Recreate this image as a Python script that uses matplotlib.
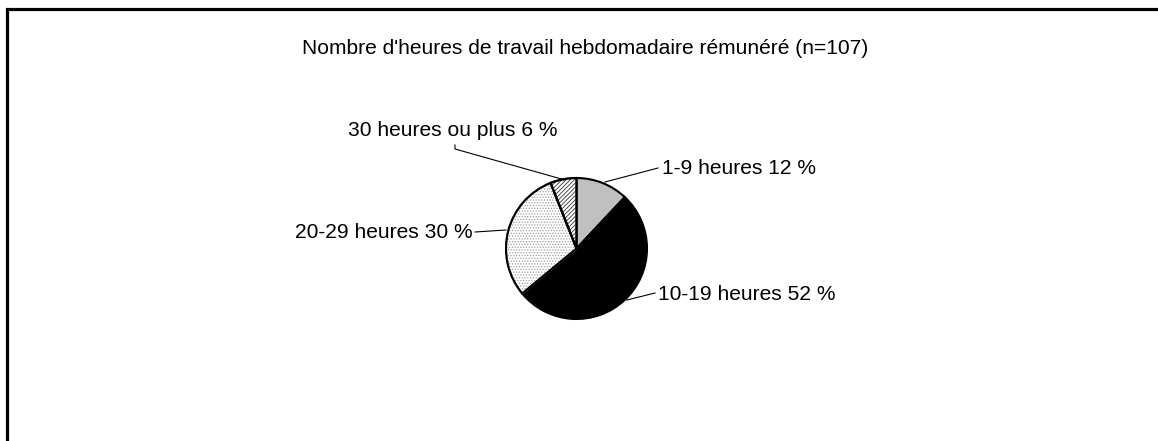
import matplotlib
matplotlib.use("Agg")
import matplotlib.pyplot as plt
import matplotlib.patches as patches

plt.rcParams['font.family'] = ['Liberation Sans', 'DejaVu Sans']
plt.rcParams['hatch.linewidth'] = 0.6

# data
title = "Nombre d'heures de travail hebdomadaire rémunéré (n=107)"
categories = ["1-9 heures", "10-19 heures", "20-29 heures", "30 heures ou plus"]
shares = [12, 52, 30, 6]

W, H = 1158, 441
FS = 15.1
fig = plt.figure(figsize=(W / 100, H / 100), dpi=100)
ax = fig.add_axes([0, 0, 1, 1])


def py(y):
    # pixel row (from top) -> data y
    return H - y


faces = ['#c0c0c0', 'black', 'white', 'white']
hatches = [None, None, '......', '////////']
hatch_cols = ['black', 'black', '#a0a0a0', '#333333']
wedges, _ = ax.pie(shares, startangle=90, counterclock=False,
                   center=(576.5, py(248.5)), radius=70.5,
                   wedgeprops=dict(edgecolor='black', linewidth=1.5))
for w, fc, h, hc in zip(wedges, faces, hatches, hatch_cols):
    w.set_facecolor(fc)
    if h:
        w.set_hatch(h)
        w.set_edgecolor(hc)
        # black outline on top of the hatch
        ax.add_patch(patches.Wedge(w.center, w.r, w.theta1, w.theta2,
                                   fill=False, edgecolor='black', lw=1.5))
ax.set_xlim(0, W)
ax.set_ylim(0, H)
ax.axis('off')

# outer frame (cropped on right and bottom)
ax.plot([7, 7, W], [0, py(9), py(9)], color='black', lw=2.3,
        solid_joinstyle='miter')

ax.text(585.5, py(53.5), title, ha='center', va='baseline', fontsize=FS)

# labels with leader lines
lab = [f"{c} {s} %" for c, s in zip(categories, shares)]
ax.text(662, py(174), lab[0], ha='left', va='baseline', fontsize=FS)
ax.plot([605, 658], [py(182), py(168)], color='black', lw=0.8)

ax.text(658, py(299.5), lab[1], ha='left', va='baseline', fontsize=FS)
ax.plot([627, 655], [py(300), py(293)], color='black', lw=0.8)

ax.text(473, py(238.5), lab[2], ha='right', va='baseline', fontsize=FS)
ax.plot([475, 506], [py(232), py(230)], color='black', lw=0.8)

ax.text(348, py(136), lab[3], ha='left', va='baseline', fontsize=FS)
ax.plot([455, 455, 565], [py(145), py(149), py(180)], color='black', lw=0.8)

fig.savefig('out.png', dpi=100)
